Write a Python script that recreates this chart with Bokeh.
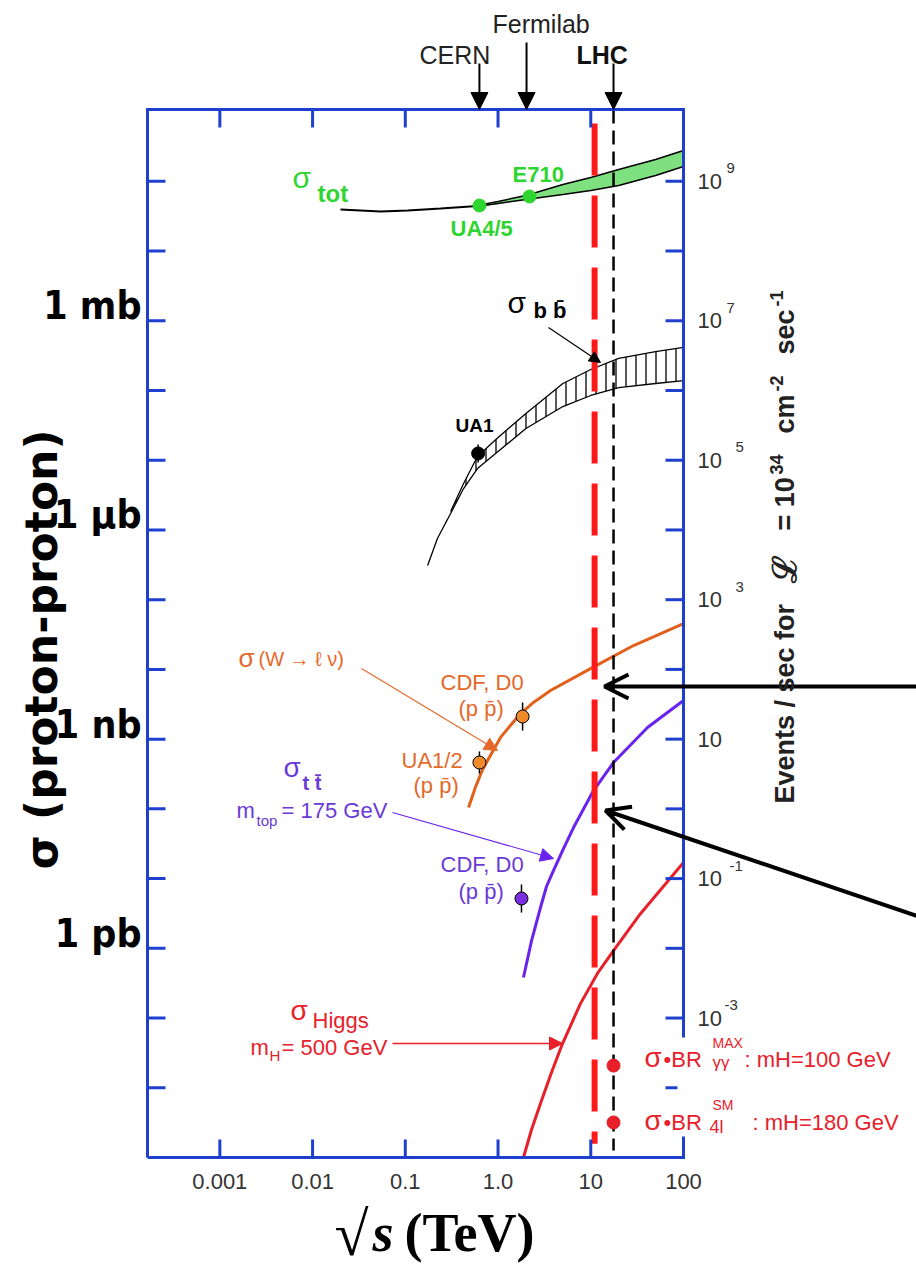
from math import pi
from bokeh.plotting import figure
from bokeh.models import Range1d, Label, Arrow, NormalHead, OpenHead
from bokeh.core.properties import value
from bokeh.embed import file_html
from bokeh.resources import INLINE

# ---------------- data ----------------
x_tick_values = [0.001, 0.01, 0.1, 1.0, 10.0, 100.0]
x_tick_labels = ["0.001", "0.01", "0.1", "1.0", "10", "100"]
sigma_decade_ticks = [10.0 ** k for k in range(-11, 3)]      # mb
sigma_tick_values = [1e0, 1e-3, 1e-6, 1e-9]
sigma_tick_labels = ["1 mb", "1 \u03bcb", "1 nb", "1 pb"]
events_per_mb = 1e7                                          # events/s per mb at L=1e34
events_tick_values = [1e9, 1e7, 1e5, 1e3, 1e1, 1e-1, 1e-3]
events_tick_exponents = ["9", "7", "5", "3", "", "-1", "-3"]

accel_names = ["CERN", "Fermilab", "LHC"]
accel_energy = [0.63, 2.03, 17.6]
lhc_energy = 17.6
lhc_line_sigma = [1.07e3, 1.26e-12]
red_line_energy = 11.0
red_line_sigma = [674.0, 1.58e-12]

# sigma_tot (mb)
tot_line_x = [0.020, 0.054, 0.106, 0.24, 0.6]
tot_line_y = [39.4, 36.9, 38.1, 40.7, 44.2]
tot_band_x = [0.6, 1.0, 2.0, 5.0, 10.0, 20.0, 50.0, 100.0]
tot_band_lo = [43.5, 48.1, 54.9, 64.7, 73.8, 87.1, 121.1, 163.4]
tot_band_hi = [45.0, 51.4, 62.7, 90.0, 113.5, 147.6, 205.6, 276.7]
tot_pts_x = [0.63, 2.19]          # UA4/5, E710
tot_pts_y = [45.0, 60.6]

# sigma_bb (mb)
bb_x = [0.174, 0.222, 0.308, 0.425, 0.6, 1.0, 2.0, 5.0, 10.0, 20.0, 50.0, 100.0]
bb_lo = [3.09e-4, 7.54e-4, 1.72e-3, 3.93e-3, 7.60e-3, 1.33e-2, 2.85e-2, 5.89e-2,
         8.48e-2, 0.110, 0.126, 0.139]
bb_hi = [3.09e-4, 7.54e-4, 1.84e-3, 4.63e-3, 1.13e-2, 2.12e-2, 4.68e-2, 0.126,
         0.200, 0.288, 0.362, 0.414]
bb_pt_x = [0.61]                  # UA1
bb_pt_y = [1.25e-2]
bb_pt_err = [1.35]

# sigma(W -> l nu) (mb)
w_x = [0.481, 0.571, 0.675, 0.771, 1.06, 1.36, 1.75, 2.43, 3.68, 10.4, 28.9, 100.0]
w_y = [1.045e-7, 2.05e-7, 3.55e-7, 4.93e-7, 1.05e-6, 1.57e-6, 2.33e-6, 3.39e-6,
       4.98e-6, 1.06e-5, 2.20e-5, 4.55e-5]
w_pts_x = [0.63, 1.84]            # UA1/2, CDF-D0
w_pts_y = [4.62e-7, 2.11e-6]
w_pts_err = [1.44, 1.59]

# sigma(t tbar) (mb)
tt_x = [1.88, 2.30, 2.87, 3.33, 3.97, 5.08, 6.52, 10.7, 17.6, 40.9, 100.0]
tt_y = [3.81e-10, 1.29e-9, 3.85e-9, 7.70e-9, 1.31e-8, 2.70e-8, 5.40e-8, 1.83e-7,
        4.62e-7, 1.47e-6, 3.58e-6]
tt_pt_x = [1.79]
tt_pt_y = [5.18e-9]
tt_pt_err = [1.59]

# sigma(Higgs, mH = 500 GeV) (mb)
h_x = [1.88, 2.30, 2.87, 3.77, 4.96, 7.74, 11.8, 17.6, 34.5, 100.0]
h_y = [1.0e-12, 2.52e-12, 5.94e-12, 1.66e-11, 4.31e-11, 1.61e-10, 4.36e-10, 9.29e-10,
       3.16e-9, 1.70e-8]
hbr_x = [17.6, 17.6]              # sigma.BR gamma-gamma, sigma.BR 4l
hbr_y = [2.08e-11, 3.18e-12]

# ---------------- layout ----------------
BLUE = "#1f3fcf"
GREEN = "#2fd52f"
GREEN_FILL = "#7fe07f"
ORANGE = "#e4692a"
ORANGE_LINE = "#e0601c"
PURPLE = "#6a3ad8"
PURPLE_LINE = "#6a22ee"
RED = "#e8202a"
SANS = "Liberation Sans"
CONDENSED = "DejaVu Sans Condensed"

W, H = 916, 1267
XL, XR = -3.78, 2.0          # log10 of the boxed x axis (TeV)
YB, YT = -12.0, 3.03         # log10 of the boxed y axis (mb)
FL, FR, FT, FB = 147, 683, 109, 1157   # box edges in pixels
PXD = (FR - FL) / (XR - XL)
PYD = (FB - FT) / (YT - YB)


def px(X, Y):
    """pixel position -> data coordinates (used to place annotations)"""
    return 10 ** (XL + (X - FL) / PXD), 10 ** (YT - (Y - FT) / PYD)


x0_, y1_ = px(0, 0)
x1_, y0_ = px(W, H)
p = figure(width=W, height=H, x_axis_type="log", y_axis_type="log",
           x_range=Range1d(x0_, x1_), y_range=Range1d(y0_, y1_),
           x_axis_location=None, y_axis_location=None,
           output_backend="svg", toolbar_location=None, min_border=0,
           background_fill_color="white", border_fill_color="white",
           outline_line_color=None)
p.grid.visible = False

BX0, BX1, BY0, BY1 = 10 ** XL, 10 ** XR, 10 ** YB, 10 ** YT

# ---------------- curves ----------------
p.varea(x=tot_band_x, y1=tot_band_lo, y2=tot_band_hi, fill_color=GREEN_FILL)
p.line(tot_band_x, tot_band_lo, line_color="black", line_width=1.5)
p.line(tot_band_x, tot_band_hi, line_color="black", line_width=1.5)
p.line(tot_line_x, tot_line_y, line_color="black", line_width=2)

p.varea(x=bb_x, y1=bb_lo, y2=bb_hi, fill_color=None, fill_alpha=0,
        hatch_pattern=value("vertical_line"), hatch_color="black", hatch_weight=1.3,
        hatch_scale=10)
p.line(bb_x, bb_lo, line_color="black", line_width=1.3)
p.line(bb_x[2:], bb_hi[2:], line_color="black", line_width=1.3)

p.line(w_x, w_y, line_color=ORANGE_LINE, line_width=3, line_join="round")
p.line(tt_x, tt_y, line_color=PURPLE_LINE, line_width=3, line_join="round")
p.line(h_x, h_y, line_color=RED, line_width=3, line_join="round")

# vertical reference lines
p.line([red_line_energy, red_line_energy], red_line_sigma, line_color="#ff1a1a",
       line_width=6, line_dash="52 20")
p.line([lhc_energy, lhc_energy], lhc_line_sigma, line_color="black",
       line_width=2.5, line_dash="14 7")


# data points with error bars
def points(xs, ys, errs, color, size=13):
    p.segment(x0=xs, y0=[y / e for y, e in zip(ys, errs)], x1=xs,
              y1=[y * e for y, e in zip(ys, errs)], line_color="black", line_width=1.5)
    p.scatter(xs, ys, size=size, fill_color=color, line_color="black", line_width=1)


points(bb_pt_x, bb_pt_y, bb_pt_err, "black")
points(w_pts_x, w_pts_y, w_pts_err, "#f08a2a")
points(tt_pt_x, tt_pt_y, tt_pt_err, "#7a2ee0")
p.scatter(tot_pts_x, tot_pts_y, size=13, fill_color=GREEN, line_color=GREEN)
p.scatter(hbr_x, hbr_y, size=13, fill_color=RED, line_color=RED)

# ---------------- blue axis box with inward ticks ----------------
p.line([BX0, BX1, BX1, BX0, BX0], [BY0, BY0, BY1, BY1, BY0], line_color=BLUE,
       line_width=3, line_join="miter")
tick_kw = dict(length=18, length_units="screen", line_color=BLUE, line_width=3)
p.ray(x=x_tick_values[:-1], y=[BY0] * 5, angle=pi / 2, **tick_kw)
p.ray(x=x_tick_values[:-1], y=[BY1] * 5, angle=-pi / 2, **tick_kw)
p.ray(x=[BX0] * len(sigma_decade_ticks), y=sigma_decade_ticks, angle=0, **tick_kw)
p.ray(x=[BX1] * len(sigma_decade_ticks), y=sigma_decade_ticks, angle=pi, **tick_kw)

# bottom tick labels
_, lab_y = px(0, 1181)
p.text(x=x_tick_values, y=[lab_y] * len(x_tick_values), text=x_tick_labels,
       text_align="center", text_baseline="middle", text_font=value(SANS),
       text_font_size="22px", text_color="#333333")

# right tick labels (events / s)
xr, _ = px(697, 0)
ev_sigma = [v / events_per_mb for v in events_tick_values]
p.text(x=[xr] * len(ev_sigma), y=ev_sigma, text=["10"] * len(ev_sigma),
       text_align="left", text_baseline="middle", text_font=value(SANS),
       text_font_size="22px", text_color="#333333")
raise_exp = 10 ** (13 / PYD)
exp_px = [726, 726, 735, 735, 726, 729, 724]
p.text(x=[px(X, 0)[0] for X in exp_px], y=[s * raise_exp for s in ev_sigma],
       text=events_tick_exponents, text_align="left", text_baseline="middle",
       text_font=value(SANS), text_font_size="15px", text_color="#333333")


# ---------------- arrows ----------------
def arrow(X0, Y0, X1, Y1, color="black", width=1.2, head="normal", size=12):
    xa, ya = px(X0, Y0)
    xb, yb = px(X1, Y1)
    if head == "normal":
        h = NormalHead(size=size, fill_color=color, line_color=color, line_width=1)
    else:
        h = OpenHead(size=size, line_color=color, line_width=width)
    p.add_layout(Arrow(end=h, x_start=xa, y_start=ya, x_end=xb, y_end=yb,
                       line_color=color, line_width=width))


for e, ytop in zip(accel_energy, [63, 42, 63]):
    _, ys = px(0, ytop)
    p.add_layout(Arrow(end=NormalHead(size=17, fill_color="black", line_color="black"),
                       x_start=e, y_start=ys, x_end=e, y_end=BY1,
                       line_color="black", line_width=2))

arrow(548, 327, 600, 362, "black", 1.2, size=11)
arrow(361, 668, 497, 750, ORANGE, 1.2, size=13)
arrow(392, 812, 553, 858, PURPLE_LINE, 1.2, size=13)
arrow(392, 1043, 562, 1043, RED, 1.5, size=13)
arrow(930, 686, 604, 686, "black", 4, head="open", size=24)
arrow(930, 920, 605, 810, "black", 4, head="open", size=24)


# ---------------- texts ----------------
def text(t, X, Y, size, color="black", font=SANS, style="normal", align="left",
         baseline="alphabetic", angle=0.0, bg=None):
    # Y given as the text baseline: convert to the cap-centre ("middle") anchor
    if baseline == "alphabetic":
        Y = Y - 0.36 * size
        baseline = "middle"
    x, y = px(X, Y)
    p.add_layout(Label(x=x, y=y, text=t, text_font=font, text_font_size=f"{size}px",
                       text_font_style=style, text_color=color, text_align=align,
                       text_baseline=baseline, angle=angle,
                       background_fill_color=bg))


# accelerators
text(accel_names[1], 492, 32, 25, "#222222")
text(accel_names[0], 419, 63, 25, "#222222")
text(accel_names[2], 576, 63, 25, "#111111", style="bold")

# sigma_tot
text("\u03c3", 292, 188, 30, GREEN)
text("tot", 317, 202, 24, GREEN, style="bold")
text("E710", 512, 182, 22, GREEN, style="bold")
text("UA4/5", 450, 236, 22, GREEN, style="bold")

# sigma_bb
text("UA1", 455, 432, 19, "black", style="bold")
text("\u03c3", 507, 313, 30, "black")
text("b b\u0304", 533, 318, 22, "black", style="bold")

# W
text("\u03c3", 238, 667, 26, ORANGE)
text("(W \u2192 \u2113 \u03bd)", 258, 666, 20, ORANGE)
text("CDF, D0", 440, 690, 22, ORANGE)
text("(p p\u0304)", 458, 716, 22, ORANGE)
text("UA1/2", 401, 768, 22, ORANGE)
text("(p p\u0304)", 413, 793, 22, ORANGE)

# t tbar
text("\u03c3", 283, 777, 28, PURPLE)
text("t t\u0304", 302, 790, 20, PURPLE, style="bold")
text("m", 236, 818, 22, PURPLE)
text("top", 256, 825, 15, PURPLE)
text("= 175 GeV", 281, 818, 22, PURPLE)
text("CDF, D0", 440, 872, 22, PURPLE)
text("(p p\u0304)", 458, 899, 22, PURPLE)

# Higgs
text("\u03c3", 290, 1020, 28, RED)
text("Higgs", 312, 1028, 22, RED)
text("m", 250, 1055, 22, RED)
text("H", 269, 1060, 15, RED)
text("= 500 GeV", 281, 1055, 22, RED)

# white box hiding the right frame behind the sigma.BR texts
text("\u00a0" * 9, 677, 1037, 88, "white", baseline="top", bg="white")
text("\u03c3", 644, 1067, 28, RED)
text("\u2022BR", 663, 1067, 22, RED)
text("MAX", 712, 1048, 14, RED)
text("\u03b3\u03b3", 712, 1068, 17, RED)
text(": mH=100 GeV", 744, 1067, 22, RED)
text("\u03c3", 644, 1130, 28, RED)
text("\u2022BR", 663, 1130, 22, RED)
text("SM", 712, 1110, 14, RED)
text("4l", 709, 1133, 18, RED)
text(": mH=180 GeV", 752, 1130, 22, RED)

# left axis title, then the unit labels drawn over it
text("\u03c3 (proton-proton)", 41, 649, 44, "black", font="DejaVu Sans", style="bold",
     align="center", baseline="middle", angle=pi / 2)
xl, _ = px(141, 0)
lift = 10 ** (15 / PYD)
for v, t in zip(sigma_tick_values, sigma_tick_labels):
    p.add_layout(Label(x=xl, y=v * lift, text=t, text_font=CONDENSED,
                       text_font_size="39px", text_font_style="bold",
                       text_color="black", text_align="right", text_baseline="middle"))

# right axis title, set in pieces so that exponents are raised
events_title = [("Events / sec for", 803, 27, 0), ("\u2112", 582, 33, 0),
                ("= 10", 530, 27, 0), ("34", 474, 18, -8), ("cm", 433, 27, 0),
                ("-2", 391, 18, -8), ("sec", 354, 27, 0), ("-1", 306, 18, -8)]
for t, y0, size, dx in events_title:
    text(t, 784 + dx, y0, size, "#222222", style="bold", baseline="middle",
         angle=pi / 2)

# bottom axis title
text("\u221a", 334, 1256, 62, "black", font="Liberation Serif")
text("s", 372, 1252, 54, "black", font="Liberation Serif", style="bold italic")
text("(TeV)", 404, 1252, 54, "black", font="Liberation Serif", style="bold")

open("out.html", "w").write(file_html(p, INLINE))
